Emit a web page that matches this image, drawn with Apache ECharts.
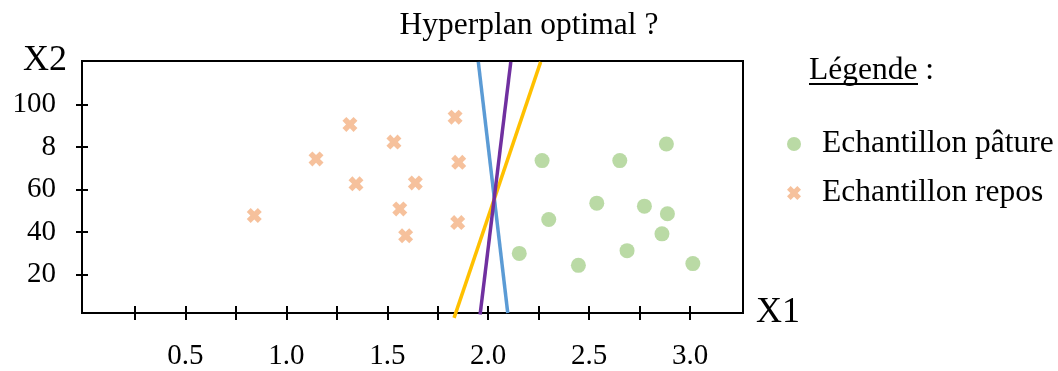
<!DOCTYPE html>
<html>
<head>
<meta charset="utf-8">
<script src="https://cdn.jsdelivr.net/npm/echarts@6/dist/echarts.min.js"></script>
<style>
html,body{margin:0;padding:0;background:#fff;}
#chart{width:1058px;height:371px;}
</style>
</head>
<body>
<div id="chart"></div>
<script>
// échantillons pâture (ronds verts)
let paturePoints = [[2.267,73.6],[2.652,73.6],[2.883,81.4],[2.538,53.6],[2.774,52.2],[2.888,48.6],
	[2.300,45.9],[2.861,39.2],[2.154,30.0],[2.688,31.3],[2.447,24.4],[3.014,25.2]]
// échantillons repos (croix orange)
let reposPoints = [[0.841,47.8],[1.147,74.4],[1.315,90.6],[1.345,62.7],[1.533,82.3],[1.639,63.1],
	[1.562,50.9],[1.591,38.3],[1.836,94.0],[1.854,72.8],[1.849,44.5]]
// les 3 hyperplans candidats, point bas -> point haut
let blueLine = [[2.097,2],[1.951,120]]
let purpleLine = [[1.960,1.3],[2.112,120]]
let yellowLine = [[1.831,-0.3],[2.260,120]]
// graduations
let xTickValues = [0.25,0.5,0.75,1,1.25,1.5,1.75,2,2.25,2.5,2.75,3]
let xLabelValues = [0.5,1,1.5,2,2.5,3]
let xTickLabels = ['0.5','1.0','1.5','2.0','2.5','3.0']
let yTickValues = [20,40,60,80,100]
let yTickLabels = ['20','40','60','8','100']

let font = 'Liberation Serif'
let crossPath = 'path://M0,2.6L2.6,0L5,2.4L7.4,0L10,2.6L7.6,5L10,7.4L7.4,10L5,7.6L2.6,10L0,7.4L2.4,5Z'

function pick(values, labels, v){
	let i = values.findIndex(t => Math.abs(t - v) < 1e-6)
	return i < 0 ? '' : labels[i]
}

let myChart = echarts.init(document.getElementById('chart'))
let gridBox = {left: 82, top: 61, right: 315, bottom: 58}
let xRange = {min: -0.0125, max: 3.2625}
let yRange = {min: 2, max: 120.4}
let tickStyle = {color: '#000', width: 2}

let option = {
	animation: false,
	title: {
		text: 'Hyperplan optimal ?',
		left: 'center',
		top: 5,
		textStyle: {fontFamily: font, fontSize: 31.5, fontWeight: 'normal', color: '#000'}
	},
	legend: {
		orient: 'vertical',
		left: 782,
		top: 123,
		itemWidth: 14,
		itemHeight: 14,
		itemGap: 17,
		textStyle: {fontFamily: font, fontSize: 31.5, color: '#000', padding: [0, 0, 0, 16]},
		data: [
			{name: 'Echantillon pâture', icon: 'circle'},
			{name: 'Echantillon repos', icon: crossPath}
		]
	},
	graphic: [
		{type: 'text', left: 809, top: 55,
			style: {text: 'Légende :', font: '31.5px "Liberation Serif"', fill: '#000'}},
		{type: 'line', shape: {x1: 809, y1: 84, x2: 918, y2: 84},
			style: {stroke: '#000', lineWidth: 2}}
	],
	grid: [
		Object.assign({show: true, borderColor: '#000', borderWidth: 2}, gridBox),
		Object.assign({show: false}, gridBox)
	],
	xAxis: [
		Object.assign({
			type: 'value', gridIndex: 0,
			name: 'X1', nameLocation: 'end', nameGap: 13,
			nameTextStyle: {fontFamily: font, fontSize: 36, color: '#000', verticalAlign: 'middle', padding: [0, 0, 14, 0]},
			axisLine: {onZero: false, lineStyle: tickStyle},
			axisTick: {customValues: xTickValues, length: 7, lineStyle: tickStyle},
			axisLabel: {customValues: xLabelValues, formatter: v => pick(xLabelValues, xTickLabels, v),
				margin: 29, fontFamily: font, fontSize: 29, color: '#000'},
			splitLine: {show: false}
		}, xRange),
		Object.assign({
			type: 'value', gridIndex: 1,
			axisLine: {show: false, onZero: false},
			axisTick: {customValues: xTickValues, inside: true, length: 7, lineStyle: tickStyle},
			axisLabel: {show: false},
			splitLine: {show: false}
		}, xRange)
	],
	yAxis: [
		Object.assign({
			type: 'value', gridIndex: 0,
			name: 'X2', nameLocation: 'end', nameGap: 0,
			nameTextStyle: {fontFamily: font, fontSize: 36, color: '#000', align: 'right', verticalAlign: 'middle', padding: [0, 15, 0, 0]},
			axisLine: {onZero: false, lineStyle: tickStyle},
			axisTick: {customValues: yTickValues, length: 6, lineStyle: tickStyle},
			axisLabel: {customValues: yTickValues, formatter: v => pick(yTickValues, yTickLabels, v),
				margin: 26, padding: [6, 0, 0, 0], fontFamily: font, fontSize: 29, color: '#000'},
			splitLine: {show: false}
		}, yRange),
		Object.assign({
			type: 'value', gridIndex: 1,
			axisLine: {show: false, onZero: false},
			axisTick: {customValues: yTickValues, inside: true, length: 6, lineStyle: tickStyle},
			axisLabel: {show: false},
			splitLine: {show: false}
		}, yRange)
	],
	series: [
		{
			name: 'Echantillon pâture', type: 'scatter',
			symbol: 'circle', symbolSize: 15,
			itemStyle: {color: '#A9D18E'},
			data: paturePoints
		},
		{
			name: 'Echantillon repos', type: 'scatter',
			symbol: crossPath, symbolSize: 15,
			itemStyle: {color: '#F4B183'},
			data: reposPoints
		},
		{
			name: 'bleu', type: 'line', data: blueLine, showSymbol: false, silent: true, clip: false,
			lineStyle: {color: '#5B9BD5', width: 3.5}
		},
		{
			name: 'jaune', type: 'line', data: yellowLine, showSymbol: false, silent: true, clip: false,
			lineStyle: {color: '#FFC000', width: 3.5}
		},
		{
			name: 'violet', type: 'line', data: purpleLine, showSymbol: false, silent: true, clip: false,
			lineStyle: {color: '#7030A0', width: 3.5}
		}
	]
}
myChart.setOption(option)
</script>
</body>
</html>
